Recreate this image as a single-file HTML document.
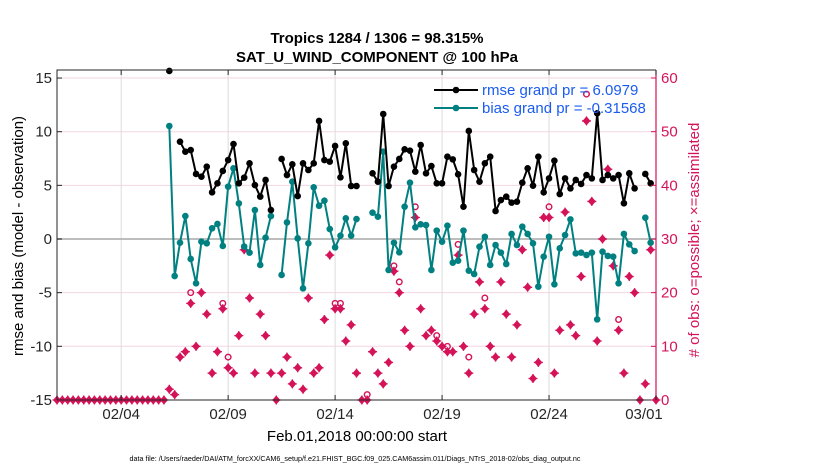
<!DOCTYPE html>
<html><head><meta charset="utf-8"><style>
html,body{margin:0;padding:0;background:#fff;}
svg{display:block;font-family:"Liberation Sans",sans-serif;}
</style></head><body>
<svg id="chart" width="830" height="470" viewBox="0 0 830 470" xmlns="http://www.w3.org/2000/svg">
<text x="377" y="43" font-size="15" font-weight="bold" text-anchor="middle">Tropics 1284 / 1306 = 98.315%</text>
<text x="377" y="62" font-size="15" font-weight="bold" text-anchor="middle">SAT_U_WIND_COMPONENT @ 100 hPa</text>
<text x="357" y="441" font-size="15" text-anchor="middle">Feb.01,2018 00:00:00 start</text>
<text x="355" y="461" font-size="7.2" text-anchor="middle">data file: /Users/raeder/DAI/ATM_forcXX/CAM6_setup/f.e21.FHIST_BGC.f09_025.CAM6assim.011/Diags_NTrS_2018-02/obs_diag_output.nc</text>
<text transform="translate(23,236) rotate(-90)" font-size="15" text-anchor="middle">rmse and bias (model - observation)</text>
<text transform="translate(699,240) rotate(-90)" font-size="15" fill="#d41359" text-anchor="middle"># of obs: o=possible; ×=assimilated</text>
<g id="grid"></g><g id="marks"></g><g id="axes"></g>
</svg>
<script>
const xTickLabels = ["02/04","02/09","02/14","02/19","02/24","03/01"];
const xTickSteps = [12,32,52,72,92,112];
const leftTicks = [-15,-10,-5,0,5,10,15];
const rightTicks = [0,10,20,30,40,50,60];
const startIndex = 21;
const rmse = [15.66,null,9.07,8.14,8.29,6.06,5.81,6.74,4.35,5.19,6.34,7.36,8.85,5.19,5.72,7.05,5.03,3.95,5.50,2.70,null,
7.46,5.96,6.96,4.0,7.05,6.43,7.05,11.0,7.36,7.21,8.67,5.75,8.92,4.94,4.94,null,null,
6.12,5.34,11.65,4.94,6.74,7.46,8.36,8.23,6.28,8.76,6.12,6.80,5.19,5.19,7.67,7.42,6.03,3.01,10.07,6.43,5.34,7.05,
7.67,2.61,3.63,3.94,3.39,3.48,5.25,6.59,4.97,7.67,4.35,5.65,7.30,4.19,5.65,4.72,5.50,5.13,5.96,5.65,11.71,5.50,5.96,5.65,5.96,3.33,6.12,4.72,
null,6.06,5.19];
const bias = [10.53,-3.45,-0.34,2.14,-1.86,-4.13,-0.25,-0.4,1.0,1.4,-0.65,4.88,6.59,3.32,-0.7,-1.27,2.70,-2.42,0.12,2.14,null,
-3.35,1.55,5.34,0.06,-4.6,-0.4,4.82,3.1,3.57,0.93,-0.78,0.31,1.93,0.31,1.86,null,null,
2.45,2.08,8.14,-2.89,-0.34,-1.24,3.01,5.25,1.09,1.37,1.30,-2.89,0.78,-0.25,1.24,-2.21,-2.02,0.78,-2.95,-3.26,-0.72,0.21,
-2.42,-0.56,-1.27,-2.33,0.47,-0.56,1.15,0.47,-0.40,-4.44,-1.65,0.21,-4.22,-0.87,0.37,1.83,-1.34,-1.27,-1.49,-1.27,-7.49,-1.18,-1.58,-1.65,-4.13,0.47,-0.50,-1.12,
null,1.99,-0.34];
const obsAssim = [0,0,0,0,0,0,0,0,0,0,0,0,0,0,0,0,0,0,0,0,0,
2,1,8,9,18,10,20,16,5,9,17,6,5,12,28,19,5,16,12,5,0,5,8,3,6,2,19,5,6,
15,27,17,17,11,14,5,0,0,9,5,3,7,24,20,13,10,34,17,12,13,11,10,9,9,27,10,5,16,22,17,
10,8,22,16,8,14,28,21,4,7,34,34,5,13,35,14,12,23,52,37,11,30,43,25,13,5,23,20,0,3,28,0];
const obsPossible = [0,0,0,0,0,0,0,0,0,0,0,0,0,0,0,0,0,0,0,0,0,
2,1,8,9,20,10,20,16,5,9,18,8,5,12,28,19,5,16,12,5,0,5,8,3,6,2,19,5,6,
15,27,18,18,11,14,5,0,1,9,5,3,7,25,22,13,10,36,17,12,13,12,10,10,9,29,10,8,16,22,19,
10,8,22,16,8,14,28,21,4,7,34,36,5,13,35,14,12,23,57,37,11,30,43,25,15,5,23,20,0,3,28,0];

const NS='http://www.w3.org/2000/svg';
const L=57,R=656,T=70,B=400;
const xs=n=>L+(R-L)*n/112;
const yl=v=>239-v*10.73;
const yr=c=>400-c*5.367;
function mk(tag,attrs,parent){const e=document.createElementNS(NS,tag);for(const k in attrs)e.setAttribute(k,attrs[k]);parent.appendChild(e);return e;}
const grid=document.getElementById('grid'),marks=document.getElementById('marks'),axes=document.getElementById('axes');
mk('rect',{x:L,y:T,width:R-L,height:B-T,fill:'#fff'},grid);
leftTicks.forEach(v=>{const l=mk('line',{x1:L,x2:R,y1:yl(v),y2:yl(v),stroke:'#f3d6e2','stroke-width':1},grid);

});
xTickSteps.forEach(s=>{const l=mk('line',{x1:xs(s),x2:xs(s),y1:T,y2:B,stroke:'#dcdcdc','stroke-width':1},grid);

});
const zl=mk('line',{x1:L,x2:R,y1:yl(0),y2:yl(0),stroke:'#bdbdbd','stroke-width':2},grid);



// obs counts
function diamond(x,y,g){const p=mk('path',{d:`M${x} ${y-4.5}L${x+4} ${y}L${x} ${y+4.5}L${x-4} ${y}Z`,fill:'#d41359'},g);
mk('path',{d:`M${x-4.5} ${y}H${x+4.5}M${x} ${y-4.5}V${y+4.5}`,stroke:'#d41359','stroke-width':1.3},g);return p;}
obsPossible.forEach((c,i)=>{if(c!==obsAssim[i]){const ci=mk('circle',{cx:xs(i),cy:yr(c),r:2.8,fill:'none',stroke:'#d41359','stroke-width':1.4},marks);

}});
obsAssim.forEach((c,i)=>{const g=mk('g',{},marks);


diamond(xs(i),yr(c),g);});

function series(vals,color,name){let d='';let pen=false;
vals.forEach((v,k)=>{if(v===null){pen=false;return;}const x=xs(startIndex+k),y=yl(v);d+=(pen?'L':'M')+x.toFixed(1)+' '+y.toFixed(1);pen=true;});
const p=mk('path',{d:d,fill:'none',stroke:color,'stroke-width':2},marks);


vals.forEach((v,k)=>{if(v===null)return;const c=mk('circle',{cx:xs(startIndex+k),cy:yl(v),r:3.3,fill:color},marks);

});}
series(bias,'#008080','bias');
series(rmse,'#000000','rmse');

// axes
const box=mk('path',{d:`M${L} ${B}V${T}H${R}M${L} ${B}H${R}`,fill:'none',stroke:'#262626','stroke-width':1},axes);


const ra=mk('line',{x1:R,x2:R,y1:T,y2:B,stroke:'#d41359','stroke-width':1.2},axes);


leftTicks.forEach(v=>{mk('line',{x1:L,x2:L+5,y1:yl(v),y2:yl(v),stroke:'#262626'},axes);
const t=mk('text',{x:L-5,y:yl(v)+5,'font-size':15,'text-anchor':'end',fill:'#262626'},axes);t.textContent=v;

});
rightTicks.forEach(c=>{mk('line',{x1:R-5,x2:R,y1:yr(c),y2:yr(c),stroke:'#d41359'},axes);
const t=mk('text',{x:R+5,y:yr(c)+5,'font-size':15,fill:'#d41359'},axes);t.textContent=c;

});
xTickSteps.forEach((s,i)=>{mk('line',{x1:xs(s),x2:xs(s),y1:B,y2:B-5,stroke:'#262626'},axes);mk('line',{x1:xs(s),x2:xs(s),y1:T,y2:T+5,stroke:'#262626'},axes);
const t=mk('text',{x:xs(s)-(i===5?12:0),y:B+19,'font-size':15,'text-anchor':'middle',fill:'#262626'},axes);t.textContent=xTickLabels[i];

});

// legend
function legend(y,color,label,name){const g=mk('g',{},axes);


mk('line',{x1:434,x2:478,y1:y,y2:y,stroke:color,'stroke-width':2},g);mk('circle',{cx:456,cy:y,r:3.3,fill:color},g);
const t=mk('text',{x:482,y:y+5,'font-size':15,fill:'#1a5cf0'},g);t.textContent=label;}
legend(90,'#000','rmse grand pr = 6.0979','legend-rmse');
legend(108,'#008080','bias grand pr = -0.31568','legend-bias');
</script>
</body></html>
